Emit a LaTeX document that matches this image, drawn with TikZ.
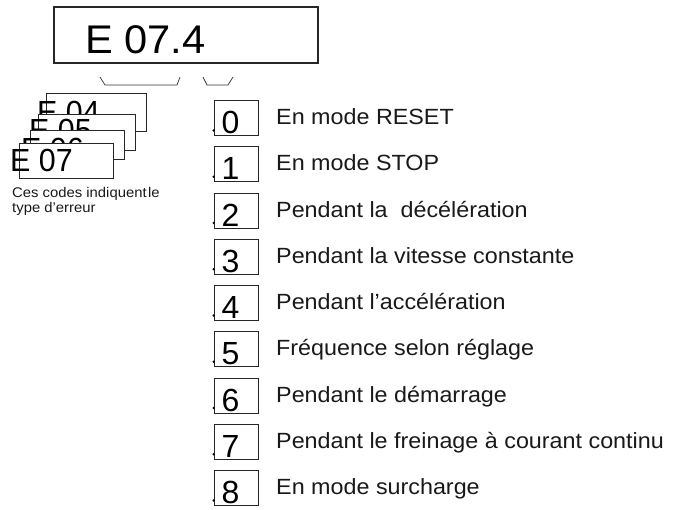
\documentclass[tikz,border=0pt]{standalone}
\usepackage{fontspec}
\setmainfont{Liberation Sans}
\begin{document}
\begin{tikzpicture}[x=1pt,y=-1pt,
  mainbox/.style={draw=black!85, line width=1.1pt},
  brk/.style={draw=black!80, line width=0.7pt},
  card/.style={draw=black!85, fill=white, line width=0.9pt},
  cardtxt/.style={anchor=base west, inner sep=0pt, xscale=0.95, font=\fontsize{32}{32}\selectfont},
  numbox/.style={draw=black!85, line width=0.8pt, minimum width=44pt, minimum height=35pt, inner sep=0pt},
  digit/.style={anchor=base west, inner sep=0pt, font=\fontsize{32}{32}\selectfont},
  lbl/.style={anchor=base west, inner sep=0pt, xscale=1.06, font=\fontsize{22}{22}\selectfont, text=black!90},
  captxt/.style={anchor=base west, inner sep=0pt, xscale=1.06, font=\fontsize{14}{15}\selectfont, text=black!90}]
\useasboundingbox (0,0) rectangle (685,509);
% main display
\draw[mainbox] (54,7) rectangle (318,63);
\node[anchor=base west, inner sep=0pt, xscale=1.04, font=\fontsize{40}{40}\selectfont] (disp) at (85,53) {E 07.4};
% brackets
\draw[brk] (100,77) -- (105,85) -- (177,85) -- (180,77);
\draw[brk] (203,77) -- (207,85) -- (228,85) -- (233,77);
% stacked cards
\draw[card] (46,93) rectangle (146,131);
\node[cardtxt] (c1) at (37,123) {E 04};
\draw[card] (38,114) rectangle (135,150);
\node[cardtxt] (c2) at (29,141) {E 05};
\draw[card] (30,130) rectangle (124,159);
\node[cardtxt] (c3) at (21,160) {E 06};
\draw[card] (19,143) rectangle (113,178);
\node[cardtxt] (c4) at (10,171) {E 07};
\node[captxt] (cap1) at (12,197) {Ces codes indiquent\hspace{0.1em}le};
\node[captxt] (cap2) at (12,212) {type d’erreur};
% code list
\foreach \i/\t in {0/En mode RESET, 1/En mode STOP, 2/Pendant la \ décélération,
  3/Pendant la vitesse constante, 4/Pendant l’accélération, 5/Fréquence selon réglage,
  6/Pendant le démarrage, 7/Pendant le freinage à courant continu, 8/En mode surcharge}{
  \node[numbox] (b\i) at (236, {118+46.25*\i}) {};
  \node[digit] (d\i) at (221.5, {133.5+46.25*\i}) {\i};
  \node[lbl] (l\i) at (276, {124.5+46.25*\i}) {\t};
  \fill[black] (213.6, {130.5+46.25*\i}) circle (1.3pt);
}
\end{tikzpicture}
\end{document}
